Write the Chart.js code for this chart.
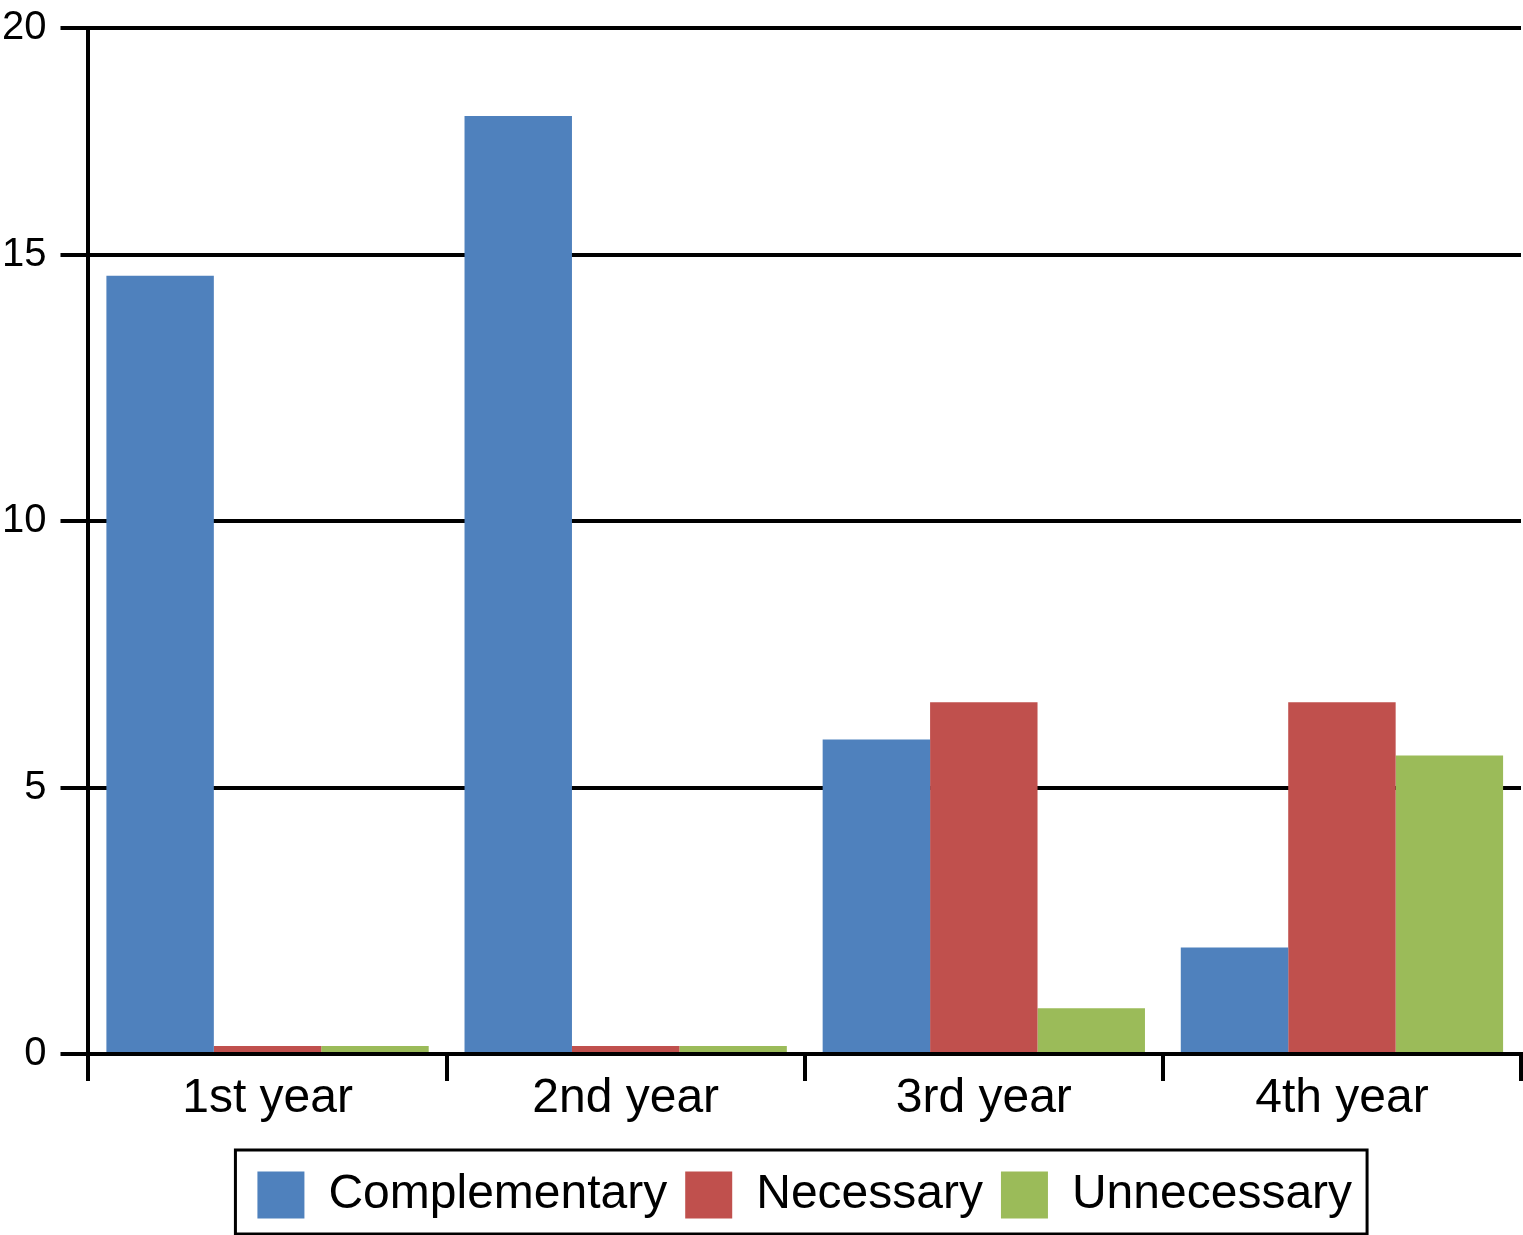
<!DOCTYPE html>
<html>
<head>
<meta charset="utf-8">
<script src="https://cdn.jsdelivr.net/npm/chart.js@4"></script>
<style>
    body { margin: 0; background: #fff; }
    #wrap { width: 1523px; height: 1235px; }
</style>
</head>
<body>
<div id="wrap"><canvas id="yearChart"></canvas></div>
<script>
const years = ['1st year', '2nd year', '3rd year', '4th year'];
const complementary = [14.6, 17.6, 5.9, 2.0];
const necessary = [0.15, 0.15, 6.6, 6.6];
const unnecessary = [0.15, 0.15, 0.86, 5.6];

// the top of the axis is cut short in the original, its label still reads 20
const yTickValues = [0, 5, 10, 15, 19.25];
const yTickLabels = ['0', '5', '10', '15', '20'];

const FONT = 'Liberation Sans';

// frame round the legend
const legendFrame = {
    id: 'legendFrame',
    afterDraw(chart) {
        const boxes = chart.legend.legendHitBoxes;
        if (!boxes || !boxes.length) return;
        const ctx = chart.ctx;
        let left = Infinity, right = -Infinity, top = Infinity, bottom = -Infinity;
        boxes.forEach(b => {
            left = Math.min(left, b.left);
            right = Math.max(right, b.left + b.width);
            top = Math.min(top, b.top);
            bottom = Math.max(bottom, b.top + b.height);
        });
        ctx.save();
        ctx.strokeStyle = '#000';
        ctx.lineWidth = 3;
        ctx.strokeRect(left - 22, top - 21, right - left + 37, bottom - top + 36);
        ctx.restore();
    }
};

window.onload = function () {
    const ctx = document.getElementById('yearChart').getContext('2d');

    new Chart(ctx, {
        type: 'bar',
        data: {
            labels: years,
            datasets: [
                { label: 'Complementary', data: complementary, backgroundColor: '#4F81BD' },
                { label: 'Necessary', data: necessary, backgroundColor: '#C0504D' },
                { label: 'Unnecessary', data: unnecessary, backgroundColor: '#9BBB59' }
            ]
        },
        options: {
            responsive: true,
            maintainAspectRatio: false,
            animation: false,
            layout: { padding: { top: 0, right: 2, bottom: 6, left: -12 } },
            datasets: {
                bar: { categoryPercentage: 0.9, barPercentage: 1.0 }
            },
            plugins: {
                tooltip: { enabled: false },
                legend: {
                    position: 'bottom',
                    fullSize: false,
                    labels: {
                        font: { family: FONT, size: 48 },
                        color: '#000',
                        boxWidth: 47,
                        boxHeight: 47,
                        padding: 18
                    }
                }
            },
            scales: {
                x: {
                    grid: {
                        display: true,
                        offset: true,
                        drawOnChartArea: false,
                        drawTicks: true,
                        tickLength: 27,
                        color: '#000',
                        lineWidth: 4
                    },
                    border: { display: true, color: '#000', width: 4 },
                    ticks: {
                        font: { family: FONT, size: 48, lineHeight: 1 },
                        color: '#000',
                        padding: -6,
                        maxRotation: 0
                    },
                    // leave room between the year labels and the legend
                    afterFit: scale => { scale.height += 36; }
                },
                y: {
                    min: 0,
                    max: 19.25,
                    afterBuildTicks: scale => {
                        scale.ticks = yTickValues.map(v => ({ value: v }));
                    },
                    grid: {
                        color: '#000',
                        lineWidth: 4,
                        tickLength: 28
                    },
                    border: { display: true, color: '#000', width: 4 },
                    ticks: {
                        font: { family: FONT, size: 40, lineHeight: 0.7 },
                        color: '#000',
                        padding: 14,
                        callback: (value, index) => yTickLabels[index]
                    }
                }
            }
        },
        plugins: [legendFrame]
    });
};
</script>
</body>
</html>
